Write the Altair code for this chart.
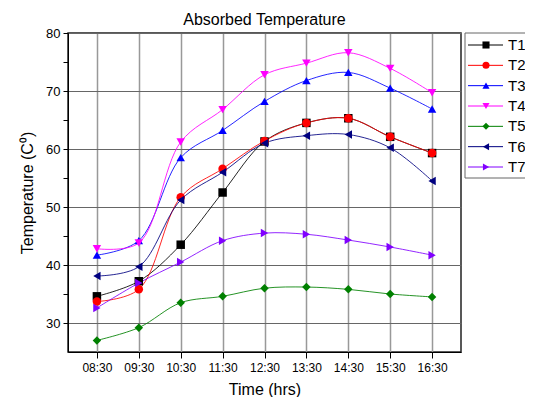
import altair as alt
import pandas as pd

times = ["08:30", "09:30", "10:30", "11:30", "12:30", "13:30", "14:30", "15:30", "16:30"]
series = ["T1", "T2", "T3", "T4", "T5", "T6", "T7"]
T1 = [34.6, 37.2, 43.5, 52.5, 61.3, 64.5, 65.3, 62.1, 59.3]
T2 = [33.7, 35.8, 51.7, 56.6, 61.4, 64.5, 65.3, 62.1, 59.3]
T3 = [41.7, 44.2, 58.5, 63.2, 68.2, 71.8, 73.2, 70.5, 66.9]
T4 = [42.8, 43.8, 61.2, 66.8, 72.8, 74.8, 76.6, 73.9, 69.7]
T5 = [27.0, 29.2, 33.5, 34.6, 36.0, 36.2, 35.8, 35.0, 34.5]
T6 = [38.1, 39.7, 51.2, 56.0, 61.0, 62.3, 62.5, 60.2, 54.5]
T7 = [32.6, 36.9, 40.5, 44.2, 45.5, 45.3, 44.3, 43.1, 41.7]

colors = ["#000000", "#ff0000", "#0000ff", "#ff00ff", "#008000", "#000080", "#8000ff"]
shapes = ["square", "circle", "triangle-up", "triangle-down", "diamond", "triangle-left", "triangle-right"]

values = [T1, T2, T3, T4, T5, T6, T7]
rows = []
for s, vals in zip(series, values):
    for t, v in zip(times, vals):
        rows.append({"series": s, "time": t, "temp": v})
df = pd.DataFrame(rows)
leg_df = pd.DataFrame({"series": series})

color_enc = alt.Color("series:N", scale=alt.Scale(domain=series, range=colors), legend=None)
shape_enc = alt.Shape("series:N", scale=alt.Scale(domain=series, range=shapes), legend=None)

x_enc = alt.X("time:N", sort=times, scale=alt.Scale(type="point", padding=0.69),
              axis=alt.Axis(title="Time (hrs)", labelAngle=0, labelFontSize=12, titleFontSize=16,
                            titleFontWeight="normal", tickSize=6, tickColor="#000", domainColor="#000",
                            grid=True, gridColor="#999", gridWidth=1.5, labelColor="#000", titleColor="#000",
                            titlePadding=8, labelPadding=4))
y_enc = alt.Y("temp:Q", scale=alt.Scale(domain=[25, 80], nice=False, zero=False),
              axis=alt.Axis(title="Temperature (C⁰)", values=[30, 35, 40, 45, 50, 55, 60, 65, 70, 75, 80],
                            labelExpr="datum.value % 10 === 0 ? datum.label : ''",
                            gridOpacity={"condition": {"test": "datum.value % 10 === 0", "value": 1}, "value": 0},
                            gridColor="#666", gridWidth=1.2, labelFontSize=13, titleFontSize=16,
                            titleFontWeight="normal", tickSize=5, tickColor="#000", domainColor="#000",
                            labelColor="#000", titleColor="#000", titlePadding=10, labelPadding=3))

lines = alt.Chart(df).mark_line(interpolate="catmull-rom", strokeWidth=1, opacity=0.85).encode(
    x=x_enc, y=y_enc, color=color_enc, detail="series:N")
points = alt.Chart(df).mark_point(filled=True, size=72, opacity=1).encode(
    x=x_enc, y=y_enc, color=color_enc, shape=shape_enc)
main = alt.layer(lines, points)

leg_y = alt.Y("series:N", scale=alt.Scale(type="point", domain=series, range=[12, 134], padding=0), axis=None)
box = alt.Chart(alt.Data(values=[{"a": 1}])).mark_rect(fill="white", stroke="#666", strokeWidth=1).encode(
    x=alt.value(397), x2=alt.value(460), y=alt.value(0), y2=alt.value(145))
leg_rule = alt.Chart(leg_df).mark_rule(strokeWidth=1).encode(
    x=alt.value(400), x2=alt.value(435), y=leg_y, color=color_enc)
leg_pts = alt.Chart(leg_df).mark_point(filled=True, size=50, opacity=1).encode(
    x=alt.value(418), y=leg_y, color=color_enc, shape=shape_enc)
leg_text = alt.Chart(leg_df).mark_text(align="left", baseline="middle", fontSize=15, font="Liberation Sans", color="#000").encode(
    x=alt.value(440), y=leg_y, text="series:N")
legend = alt.layer(box, leg_rule, leg_pts, leg_text)

chart = alt.layer(main, legend).resolve_scale(y="independent").properties(
    width=393, height=319,
    title=alt.TitleParams("Absorbed Temperature", fontSize=16, fontWeight="normal", font="Liberation Sans",
                          color="#000", anchor="middle", offset=0, dy=1),
    autosize=alt.AutoSizeParams(type="none"),
    padding={"left": 60, "top": 25, "right": 64, "bottom": 45},
).configure(font="Liberation Sans").configure_view(stroke="#222", strokeWidth=1.5)

chart.save("out.html", embed_options={"renderer": "svg", "actions": False})
